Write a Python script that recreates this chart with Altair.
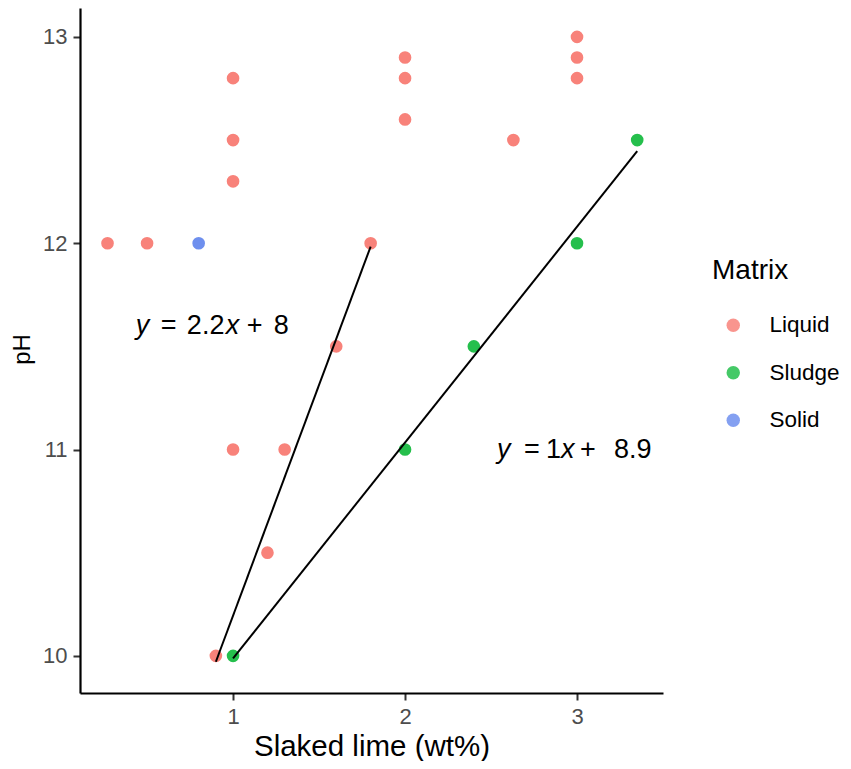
import altair as alt
import pandas as pd

# ---- data ----
matrix = ["Liquid", "Liquid", "Solid", "Liquid", "Liquid", "Liquid", "Liquid", "Liquid",
          "Liquid", "Liquid", "Liquid", "Liquid", "Liquid", "Liquid", "Liquid", "Liquid",
          "Liquid", "Liquid", "Liquid",
          "Sludge", "Sludge", "Sludge", "Sludge", "Sludge"]
slaked_lime = [0.27, 0.5, 0.8, 1.0, 1.0, 1.0, 1.8, 1.6, 1.0, 1.3,
               1.2, 0.9, 2.0, 2.0, 2.0, 2.63, 3.0, 3.0, 3.0,
               1.0, 2.0, 2.4, 3.0, 3.35]
ph = [12.0, 12.0, 12.0, 12.8, 12.5, 12.3, 12.0, 11.5, 11.0, 11.0,
      10.5, 10.0, 12.9, 12.8, 12.6, 12.5, 13.0, 12.9, 12.8,
      10.0, 11.0, 11.5, 12.0, 12.5]
fit_group = ["", "", "", "", "", "", "Liquid", "Liquid", "", "Liquid",
             "Liquid", "Liquid", "", "", "", "", "", "", "",
             "Sludge", "Sludge", "Sludge", "Sludge", "Sludge"]

matrix_levels = ["Liquid", "Sludge", "Solid"]
matrix_colors = ["#F8827A", "#25BF4C", "#6E8FEE"]

x_ticks = [1, 2, 3]
y_ticks = [10, 11, 12, 13]

# equation annotations: (anchor x, anchor y, [(text, italic, dx), ...])
eq_anchor_x = [0.9, 3.0]
eq_anchor_y = [11.6, 11.0]
eq_segments = [
    [("y", True, -80), ("=", False, -55), ("2.2", False, -29), ("x", True, 10),
     ("+", False, 31), ("8", False, 58)],
    [("y", True, -80), ("=", False, -53), ("1", False, -31), ("x", True, -16),
     ("+", False, 3), ("8.9", False, 37)],
]

df = pd.DataFrame({"x": slaked_lime, "ph": ph, "Matrix": matrix, "fit": fit_group})

FONT = "Liberation Sans"
x_scale = alt.Scale(domain=[0.11, 3.5], nice=False, zero=False)
y_scale = alt.Scale(domain=[9.82, 13.14], nice=False, zero=False)

x_enc = alt.X("x:Q", scale=x_scale, title="Slaked lime (wt%)",
              axis=alt.Axis(values=x_ticks, format="d", titleY=62, titleFontSize=29.5,
                            titleBaseline="alphabetic"))
y_enc = alt.Y("ph:Q", scale=y_scale, title="pH",
              axis=alt.Axis(values=y_ticks, format="d", titleX=-51, titleY=341,
                            titleAngle=270, titleBaseline="alphabetic",
                            titleFontSize=24))

points = alt.Chart(df).mark_circle(size=160, opacity=1).encode(
    x=x_enc,
    y=y_enc,
    color=alt.Color(
        "Matrix:N",
        scale=alt.Scale(domain=matrix_levels, range=matrix_colors),
        legend=alt.Legend(
            title="Matrix", orient="none", legendX=632, legendY=249,
            titleFontSize=28, titleFontWeight="normal", titleColor="black",
            titleFont=FONT, titlePadding=29,
            labelFontSize=22.5, labelColor="black", labelFont=FONT,
            symbolType="circle", symbolSize=180, symbolOpacity=0.85,
            symbolStrokeWidth=0, rowPadding=24.5, symbolOffset=10, labelOffset=25,
            labelLimit=200,
        ),
    ),
)

lines = (
    alt.Chart(df)
    .transform_filter(alt.datum.fit != "")
    .transform_regression("x", "ph", groupby=["fit"])
    .mark_line(color="black", strokeWidth=2)
    .encode(x=alt.X("x:Q", scale=x_scale), y=alt.Y("ph:Q", scale=y_scale),
            detail="fit:N")
)

layers = [points, lines]
for ax, ay, segs in zip(eq_anchor_x, eq_anchor_y, eq_segments):
    for txt, italic, dx in segs:
        seg_df = pd.DataFrame({"x": [ax], "ph": [ay], "t": [txt]})
        layers.append(
            alt.Chart(seg_df).mark_text(
                align="left", baseline="middle", dx=dx, fontSize=27, font=FONT,
                fontStyle="italic" if italic else "normal", color="black",
            ).encode(x=alt.X("x:Q", scale=x_scale), y=alt.Y("ph:Q", scale=y_scale),
                     text="t:N")
        )

chart = (
    alt.layer(*layers)
    .properties(width=583, height=685, autosize="none",
                padding={"left": 72, "top": 0, "right": 180, "bottom": 68})
    .configure(font=FONT)
    .configure_view(stroke=None)
    .configure_axis(
        grid=False, domainColor="black", domainWidth=2.2,
        tickColor="#333333", tickWidth=2, tickSize=7,
        labelColor="#4D4D4D", labelFontSize=22, labelFont=FONT, labelPadding=6,
        titleFontSize=28, titleFontWeight="normal", titleColor="black", titleFont=FONT,
    )
)

chart.save("out.html", embed_options={"renderer": "svg", "actions": False})
